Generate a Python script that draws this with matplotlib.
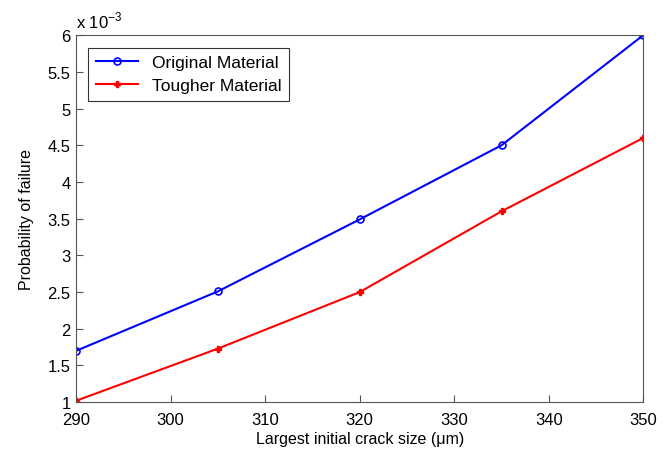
import matplotlib
matplotlib.use("Agg")
import matplotlib.pyplot as plt

plt.rcParams['font.family'] = ['Liberation Sans', 'DejaVu Sans']
plt.rcParams['mathtext.fontset'] = 'custom'
plt.rcParams['mathtext.rm'] = 'Liberation Sans'

# data
crack_size = [290, 305, 320, 335, 350]
original = [1.70, 2.51, 3.49, 4.50, 6.00]
tougher = [1.02, 1.73, 2.50, 3.60, 4.60]
x_ticks = [290, 300, 310, 320, 330, 340, 350]
y_ticks = [1, 1.5, 2, 2.5, 3, 3.5, 4, 4.5, 5, 5.5, 6]
y_ticklabels = ['1', '1.5', '2', '2.5', '3', '3.5', '4', '4.5', '5', '5.5', '6']

fig = plt.figure(figsize=(6.68, 4.52), dpi=100)
ax = fig.add_axes([0.114, 0.108, 0.849, 0.812])

ax.plot(crack_size, original, color='blue', marker='o', markersize=5,
        markerfacecolor='none', markeredgewidth=1.2, linewidth=1.5,
        label='Original Material')
ax.plot(crack_size, tougher, color='red', marker='P', markersize=5,
        linewidth=1.5, label='Tougher Material')

ax.set_xlim(290, 350)
ax.set_ylim(1, 6)
ax.set_xticks(x_ticks)
ax.set_yticks(y_ticks)
ax.set_yticklabels(y_ticklabels)
ax.tick_params(direction='in', length=5, labelsize=12, color='#555555')
ax.tick_params(axis='x', pad=7)
ax.tick_params(axis='y', pad=4)
for s in ax.spines.values():
    s.set_color('#555555')

ax.text(0.0, 1.012, r'x 10$^{-3}$', transform=ax.transAxes, fontsize=12,
        ha='left', va='bottom')

ax.set_xlabel('Largest initial crack size (\u03bcm)', fontsize=11.5, labelpad=3)
ax.set_ylabel('Probability of failure', fontsize=11.5, labelpad=10)

leg = ax.legend(loc='upper left', fontsize=12.5, frameon=True, fancybox=False,
                edgecolor='black', handlelength=2.4, borderpad=0.45,
                labelspacing=0.45, bbox_to_anchor=(0.006, 0.99))
leg.get_frame().set_linewidth(0.8)

fig.savefig('out.png', dpi=100)
plt.close()
